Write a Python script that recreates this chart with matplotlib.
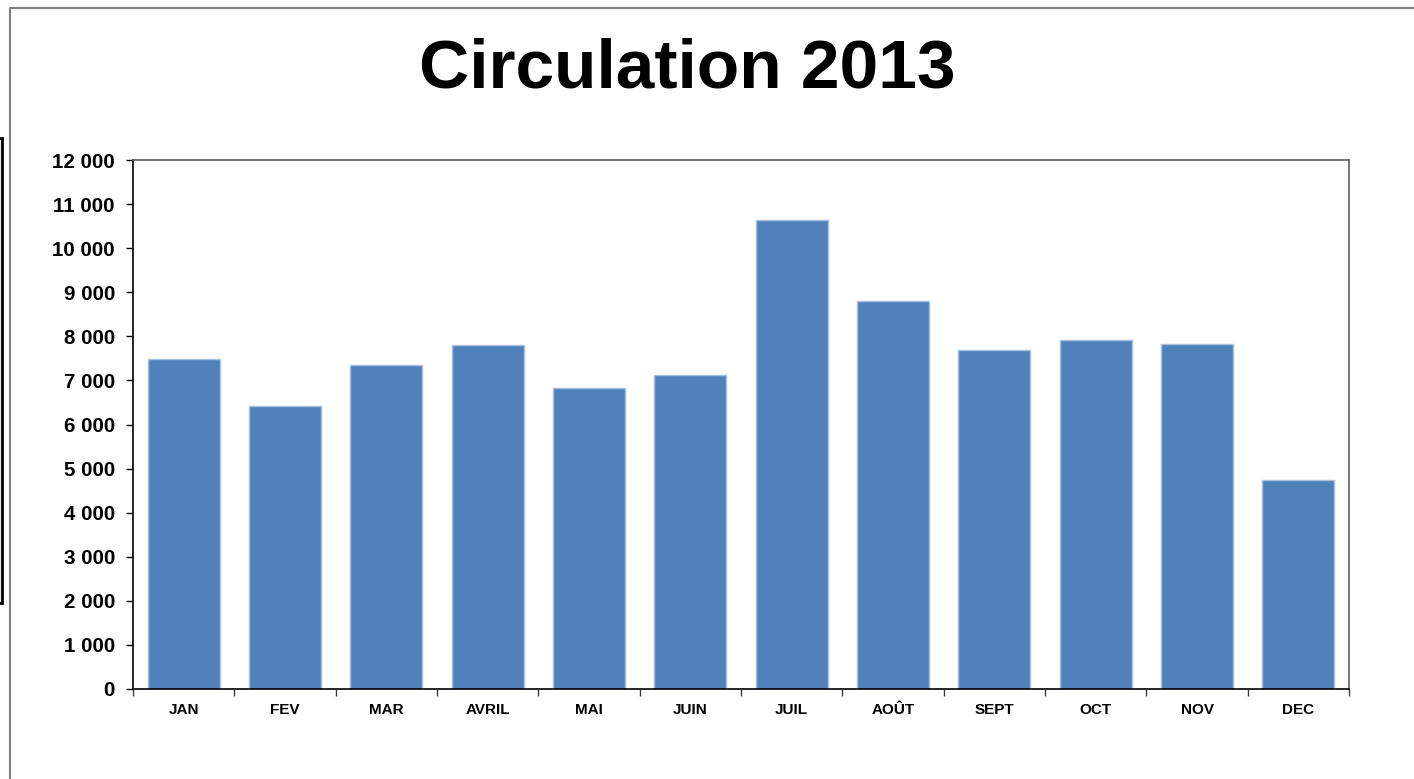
import numpy as np
import matplotlib.pyplot as plt
from matplotlib.lines import Line2D
from matplotlib.patches import Rectangle

plt.rcParams['font.family'] = ['Liberation Sans', 'DejaVu Sans']

months = ['JAN', 'FEV', 'MAR', 'AVRIL', 'MAI', 'JUIN', 'JUIL', 'AOÛT', 'SEPT', 'OCT', 'NOV', 'DEC']
circulation = [7490, 6420, 7360, 7810, 6830, 7130, 10640, 8800, 7700, 7920, 7830, 4730]
yticks = np.arange(0, 12001, 1000)

fig = plt.figure(figsize=(14.14, 7.79), dpi=100)
ax = fig.add_axes([133/1414, 1-689/779, (1349-133)/1414, (689-160)/779])

x = np.arange(len(months))
ax.bar(x, circulation, width=0.71, color='#4f81bd', edgecolor='#a9c1df', linewidth=1, zorder=2)

ax.set_xlim(-0.5, len(months)-0.5)
ax.set_ylim(0, 12000)
ax.set_yticks(yticks)
ax.set_yticklabels([f"{v:,.0f}".replace(',', ' ') for v in yticks], fontsize=14.8, fontweight='bold')
ax.set_xticks(x)
ax.set_xticklabels(months, fontsize=11, fontweight='bold')
ax.set_xticks(np.arange(-0.5, len(months)), minor=True)
ax.tick_params(axis='x', which='major', length=0, pad=10)
ax.tick_params(axis='x', which='minor', length=5, width=1, direction='out', color='#404040')
ax.tick_params(axis='y', length=5, width=1, direction='out', pad=8)

for s in ['left', 'bottom']:
    ax.spines[s].set_color('black')
    ax.spines[s].set_linewidth(1.2)
for s in ['top', 'right']:
    ax.spines[s].set_color('#606060')
    ax.spines[s].set_linewidth(1.2)

fig.text(687/1414, 1-88/779, 'Circulation 2013', ha='center', va='baseline',
         fontsize=50, fontweight='bold')

# outer frame of the chart area
fx, fy = 10/1414, 1-8/779
fig.add_artist(Line2D([fx, fx, 1], [0, fy, fy], transform=fig.transFigure, color='#808080', lw=1.5))
# clipped neighbour chart at the left edge
fig.add_artist(Rectangle((-0.002, 1-603/779), 5/1414, (603-138)/779, transform=fig.transFigure,
                         facecolor='#e8e6f5', edgecolor='black', lw=2))

fig.savefig('out.png', dpi=100)
